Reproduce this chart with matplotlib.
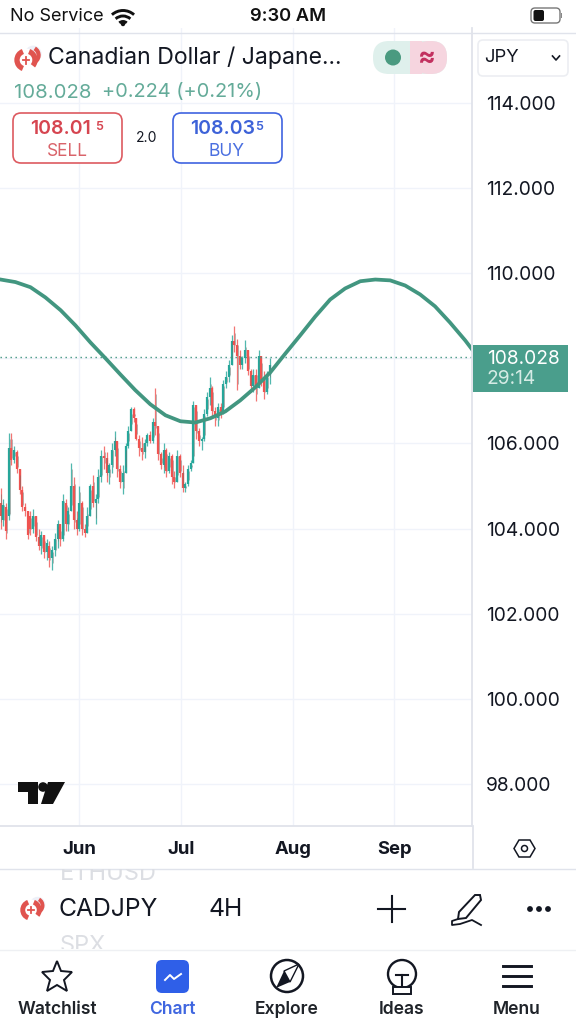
import matplotlib
matplotlib.use("agg")
import matplotlib.pyplot as plt
from matplotlib.patches import Arc, Circle, FancyBboxPatch, Polygon, Rectangle

plt.rcParams['font.family'] = ['Inter', 'DejaVu Sans']

# candles
highs = [104.95, 104.7, 104.6, 106.25, 106.25, 105.95, 105.85, 105.4, 105.0, 104.6,
         104.4, 104.4, 104.45, 104.3, 104.0, 103.95, 103.85, 103.75, 103.7, 103.6,
         103.9, 104.2, 104.1, 104.8, 104.7, 104.5, 105.55, 105.2, 104.4, 105.0,
         104.65, 104.1, 104.5, 105.05, 105.25, 104.8, 105.4, 105.85, 105.95, 105.8,
         105.55, 106.0, 106.3, 106.05, 105.5, 105.5, 106.0, 106.4, 106.85, 106.85,
         106.6, 106.2, 106.15, 106.1, 106.25, 106.3, 106.6, 107.3, 106.4, 105.8,
         106.0, 105.9, 105.8, 105.75, 105.35, 105.85, 105.75, 105.5, 105.1, 105.5,
         105.6, 107.0, 106.9, 106.35, 106.15, 106.8, 107.2, 107.55, 107.35, 106.85,
         106.95, 106.95, 107.5, 107.7, 107.95, 108.55, 108.75, 108.45, 108.2, 108.05,
         108.42, 108.2, 107.75, 107.75, 107.75, 108.2, 108.05, 107.7, 107.7, 108.0]
lows = [104.0, 104.05, 103.75, 104.2, 105.5, 105.55, 105.3, 104.8, 104.4, 104.3,
        103.75, 103.85, 103.9, 103.7, 103.5, 103.4, 103.3, 103.25, 103.1, 103.03,
        103.35, 103.55, 103.6, 103.7, 103.95, 103.95, 104.4, 104.0, 103.85, 103.95,
        103.85, 103.8, 103.9, 104.3, 104.5, 104.1, 104.6, 105.1, 105.4, 105.1,
        105.05, 105.3, 105.7, 105.2, 104.95, 104.8, 105.3, 105.9, 106.3, 106.5,
        106.07, 105.7, 105.6, 105.65, 105.95, 106.0, 106.0, 106.2, 105.6, 105.4,
        105.3, 105.2, 105.3, 105.05, 104.95, 105.1, 105.2, 104.85, 104.85, 105.0,
        105.35, 105.55, 106.1, 105.95, 105.85, 106.05, 106.65, 106.9, 106.6, 106.4,
        106.4, 106.6, 106.7, 107.3, 107.45, 107.85, 108.15, 107.25, 107.75, 107.75,
        107.9, 107.6, 107.2, 107.2, 107.0, 107.3, 107.35, 107.05, 107.15, 107.4]
opens = [104.6, 104.2, 104.5, 104.3, 105.9, 105.6, 105.8, 105.4, 104.9, 104.5,
         104.4, 104.3, 104.0, 104.3, 103.8, 103.6, 103.85, 103.45, 103.6, 103.3,
         103.5, 103.75, 104.1, 103.75, 104.6, 104.1, 104.4, 105.0, 104.2, 104.0,
         104.6, 104.0, 103.9, 104.3, 105.0, 104.6, 104.7, 105.2, 105.7, 105.65,
         105.3, 105.5, 105.85, 106.05, 105.4, 105.1, 105.3, 105.95, 106.3, 106.8,
         106.6, 106.1, 105.9, 105.8, 106.0, 106.2, 106.05, 106.5, 106.4, 105.75,
         105.5, 105.85, 105.35, 105.7, 105.2, 105.1, 105.7, 105.3, 104.95, 105.05,
         105.4, 105.55, 106.9, 106.3, 106.05, 106.1, 106.7, 107.1, 107.3, 106.75,
         106.6, 106.85, 106.7, 107.4, 107.55, 107.85, 108.4, 108.3, 108.05, 107.85,
         108.0, 108.2, 107.7, 107.35, 107.6, 107.3, 108.05, 107.5, 107.2, 107.6]
closes = [104.3, 104.55, 103.95, 105.9, 105.6, 105.85, 105.4, 104.9, 104.5, 104.4,
          103.85, 104.0, 104.3, 103.8, 103.6, 103.85, 103.45, 103.65, 103.3, 103.5,
          103.75, 104.1, 103.75, 104.65, 104.1, 104.4, 105.0, 104.2, 104.0, 104.6,
          104.0, 103.9, 104.3, 105.0, 104.6, 104.7, 105.2, 105.7, 105.65, 105.3,
          105.5, 105.85, 106.05, 105.4, 105.1, 105.3, 105.95, 106.3, 106.8, 106.6,
          106.1, 105.9, 105.8, 106.0, 106.2, 106.05, 106.5, 106.4, 105.75, 105.5,
          105.85, 105.35, 105.7, 105.2, 105.1, 105.7, 105.3, 104.95, 105.05, 105.4,
          105.55, 106.9, 106.3, 106.05, 106.1, 106.7, 107.1, 107.3, 106.75, 106.6,
          106.85, 106.7, 107.4, 107.55, 107.85, 108.4, 108.3, 108.05, 107.85, 108.0,
          108.2, 107.7, 107.35, 107.6, 107.3, 108.05, 107.5, 107.2, 107.6, 107.85]

# green moving curve, sampled by eye (bar index, price)
curve_x = [0, 5.5, 11, 16.5, 22.1, 27.6, 33.1, 38.6, 44.1, 49.6, 55.1, 60.7, 66.2, 71.7, 77.2, 82.7, 88.2,
           93.8, 99.3, 104.8, 110.3, 115.8, 121.3, 126.8, 132.4, 137.9, 143.4, 148.9, 154.4, 159.9, 165.4, 171, 173.5]
curve_y = [109.85, 109.79, 109.67, 109.43, 109.13, 108.77, 108.37, 108.0, 107.62, 107.25, 106.92, 106.66, 106.52,
           106.49, 106.59, 106.75, 107.01, 107.32, 107.67, 108.11, 108.54, 108.98, 109.38, 109.64, 109.81, 109.85,
           109.83, 109.71, 109.5, 109.22, 108.84, 108.42, 108.21]

last_price = 108.028
price_ticks = [98, 100, 102, 104, 106, 108, 110, 112, 114]
month_pos = [29, 66.5, 107.7, 144.9]
month_names = ["Jun", "Jul", "Aug", "Sep"]
nav_names = ["Watchlist", "Chart", "Explore", "Ideas", "Menu"]

GREEN = "#26a69a"
RED = "#ef5350"
LINE = "#429680"
DARK = "#131722"
GRID = "#f0f3fa"
BORDER = "#e0e3eb"

fig = plt.figure(figsize=(5.76, 10.24), dpi=100)

# chart area: x 0-472, y 28-826 in image pixels
ax = fig.add_axes([0, 1 - 826 / 1024, 472 / 576, 798 / 1024])
ax.set_xlim(-0.2, 173.5)
ax.set_ylim(97.01, 115.76)
ax.grid(True, color=GRID, lw=1)
ax.set_axisbelow(True)
for s in ["top", "left"]:
    ax.spines[s].set_visible(False)
for s in ["right", "bottom"]:
    ax.spines[s].set_color(BORDER)
    ax.spines[s].set_linewidth(1.3)
ax.yaxis.tick_right()
ax.set_yticks(price_ticks)
ax.set_yticklabels(["" if p == 108 else f"{p}.000" for p in price_ticks], fontsize=13.8, color=DARK)
ax.set_xticks(month_pos)
ax.set_xticklabels(month_names, fontsize=13.3, fontweight="bold", color=DARK)
ax.tick_params(axis="y", length=0, pad=10)
ax.tick_params(axis="x", length=0, pad=11)

for i in range(len(highs)):
    col = GREEN if closes[i] >= opens[i] else RED
    ax.vlines(i, lows[i], highs[i], color=col, lw=0.9, alpha=0.8)
    ax.vlines(i, min(opens[i], closes[i]), max(opens[i], closes[i]), color=col, lw=1.6)
    ax.vlines(i + 0.3, lows[i] + 0.15, highs[i] - 0.15, color="#6f6f6a", lw=0.6, alpha=0.55)

ax.axhline(last_price, color=LINE, lw=1, ls=(0, (1, 2.6)))
ax.plot(curve_x, curve_y, color=LINE, lw=2.7, solid_joinstyle="round", clip_on=True)

# everything else is the app around the chart, in pixel coords
ui = fig.add_axes([0, 0, 1, 1], facecolor="none")
ui.set_xlim(0, 576)
ui.set_ylim(1024, 0)
ui.axis("off")


def txt(x, y, s, size, color=DARK, ha="left", weight="normal", **kw):
    # 1.5px nudge, Inter sits a bit high with va=center
    return ui.text(x, y + 1.5, s, fontsize=size, color=color, ha=ha, va="center", fontweight=weight, **kw)


def box(x0, y0, x1, y1, r, fc="white", ec="none", lw=1.2):
    p = FancyBboxPatch((x0 + r, y0 + r), x1 - x0 - 2 * r, y1 - y0 - 2 * r, boxstyle=f"round,pad={r}",
                       fc=fc, ec=ec, lw=lw)
    ui.add_patch(p)
    return p


def flag(cx, cy, s=1.0):
    ui.add_patch(Circle((cx + 6 * s, cy - 5 * s), 7 * s, fc="#eef0f8", ec="none"))
    ui.add_patch(Circle((cx, cy), 9.5 * s, fc="white", ec="none"))
    ui.add_patch(Arc((cx, cy), 15 * s, 15 * s, theta1=110, theta2=250, color="#e0544f", lw=3.2 * s))
    ui.add_patch(Arc((cx, cy), 15 * s, 15 * s, theta1=-70, theta2=40, color="#e0544f", lw=3.2 * s))
    ui.add_patch(Arc((cx + 4 * s, cy - 4 * s), 13 * s, 13 * s, theta1=-60, theta2=70, color="#e0544f", lw=2.5 * s))
    ui.plot([cx - 2.6 * s, cx + 2.6 * s], [cy, cy], color="#e0544f", lw=1.3)
    ui.plot([cx, cx], [cy - 2.6 * s, cy + 3 * s], color="#e0544f", lw=1.3)


# status bar
txt(10, 15, "No Service", 13, "#111111")
for d in [33, 22, 11]:
    ui.add_patch(Arc((123, 27), d, d, theta1=228, theta2=312, color="#111111", lw=2.1))
ui.add_patch(Circle((123, 24), 2.2, fc="#111111", ec="none"))
txt(288, 15, "9:30 AM", 13.2, "#111111", ha="center", weight="semibold")
box(531, 8, 560, 23, 4, fc="white", ec="#777777", lw=1)
box(533.5, 10, 544, 21, 2, fc="#111111")
ui.add_patch(Rectangle((561, 13), 1.2, 5, fc="#888888", ec="none"))
ui.plot([0, 576], [32.5, 32.5], color=BORDER, lw=1)

# header
flag(26, 60, 1.2)
txt(48, 56, "Canadian Dollar / Japane...", 16.6, "#131722")
box(373, 41, 447, 74, 16, fc="#dff0ec")
box(413, 41, 447, 74, 16, fc="#f6d5df")
ui.add_patch(Rectangle((410, 41), 12, 33, fc="#f6d5df", ec="none"))
ui.add_patch(Circle((393, 57.5), 8, fc="#4a9a80", ec="none"))
txt(427, 56, "≈", 19, "#c2305f", ha="center", weight="bold")
txt(14, 91, "108.028", 14.6, "#64ab99")
txt(102, 91, "+0.224 (+0.21%)", 14.4, "#64ab99")

box(13, 113, 122, 163, 8, ec="#dd5a60", lw=1.2)
txt(30, 128, "108.01", 14, "#d64550", weight="semibold")
txt(95, 125, "5", 9, "#d64550", weight="semibold")
txt(67, 150, "SELL", 12.5, "#d9636a", ha="center")
txt(147, 137, "2.0", 10, "#131722", ha="center")
box(173, 113, 282, 163, 8, ec="#3f63e0", lw=1.2)
txt(190, 128, "108.03", 14, "#3d62d8", weight="semibold")
txt(255, 125, "5", 9, "#3d62d8", weight="semibold")
txt(227, 150, "BUY", 12.5, "#4a6fe0", ha="center")

box(478, 40, 568, 76, 5, ec="#eceef2", lw=1.2)
txt(484, 56, "JPY", 13.3, "#131722")
ui.plot([552.5, 556, 559.5], [56, 60, 56], color="#131722", lw=1.2)

# last price label
ui.add_patch(Rectangle((473, 345), 95, 47, fc="#4a9e8c", ec="none"))
txt(487, 357, f"{last_price:.3f}", 13.8, "white")
txt(487, 378, "29:14", 13.8, "#d5ebe5")

# tradingview logo
ui.add_patch(Polygon([(18, 782), (38, 782), (38, 804), (28, 804), (28, 792), (18, 792)], fc="#111111", ec="none"))
ui.add_patch(Circle((43, 787), 4.8, fc="#111111", ec="none"))
ui.add_patch(Polygon([(48, 782), (65, 782), (53, 804), (41, 804)], fc="#111111", ec="none"))

# settings hexagon
ui.add_patch(Polygon([(514, 848.5), (519, 840), (530, 840), (535, 848.5), (530, 857), (519, 857)],
                     fc="none", ec=DARK, lw=1.1))
ui.add_patch(Circle((524.5, 848.5), 3, fc="none", ec=DARK, lw=1.1))
ui.plot([472.5, 472.5], [826, 868], color=BORDER, lw=1.3)
ui.plot([0, 576], [868.5, 868.5], color=BORDER, lw=1)

# symbol bar, neighbours peek out from the scrolling list
for s, y, y0, y1 in [("ETHUSD", 872, 869, 884), ("SPX", 944, 930, 949)]:
    t = txt(60, y, s, 17, "#dcdee3")
    t.set_clip_path(Rectangle((0, y0), 300, y1 - y0, transform=ui.transData))
    t.set_clip_on(True)
flag(31, 910, 1.1)
txt(59, 908, "CADJPY", 17.8, "#131722")
txt(209, 908, "4H", 17.8, "#131722")
ui.plot([378, 405], [909, 909], color=DARK, lw=1.5)
ui.plot([391.5, 391.5], [896, 922], color=DARK, lw=1.5)
ui.add_patch(Polygon([(459, 912), (475, 895), (480, 895), (481, 900), (466, 918), (458, 919)], fc="none", ec=DARK, lw=1.4))
ui.plot([458, 452, 452, 460, 472, 481], [919, 921, 925, 924, 920, 925], color=DARK, lw=1.3)
for x in [530, 539, 548]:
    ui.add_patch(Circle((x, 909), 2.9, fc=DARK, ec="none"))
ui.plot([0, 576], [949.5, 949.5], color="#eef0f3", lw=1)

# bottom nav
star = [(57, 961), (61, 971), (72, 972), (64, 980), (67, 991), (57, 985), (47, 991), (50, 980), (42, 972), (53, 971)]
ui.add_patch(Polygon(star, fc="none", ec=DARK, lw=1.4))
box(156, 960, 189, 993, 6, fc="#2f5fe8")
ui.plot([165, 170, 174, 181], [980, 975, 979, 974], color="white", lw=1.4)
ui.add_patch(Circle((287, 976), 16, fc="none", ec=DARK, lw=1.8))
ui.add_patch(Polygon([(299, 964), (290, 982), (276, 988), (284, 971)], fc=DARK, ec="none"))
ui.add_patch(Polygon([(299, 964), (290, 982), (284, 971)], fc="white", ec=DARK, lw=1))
ui.add_patch(Circle((402, 974), 14, fc="none", ec=DARK, lw=1.7))
ui.plot([396, 408], [975, 975], color=DARK, lw=1.5)
ui.plot([402, 402], [975, 986], color=DARK, lw=1.5)
ui.add_patch(Rectangle((393, 987), 18, 7, fc="white", ec=DARK, lw=1.4))
for y in [966, 976, 986]:
    ui.plot([503, 531], [y, y], color="#131722", lw=2.1)

for x, name in zip([57, 172, 287, 402, 517], nav_names):
    col = "#3f66e0" if name == "Chart" else "#1f2329"
    txt(x, 1008, name, 12.6, col, ha="center", weight="semibold")

fig.savefig("out.png", dpi=100, facecolor="white")
